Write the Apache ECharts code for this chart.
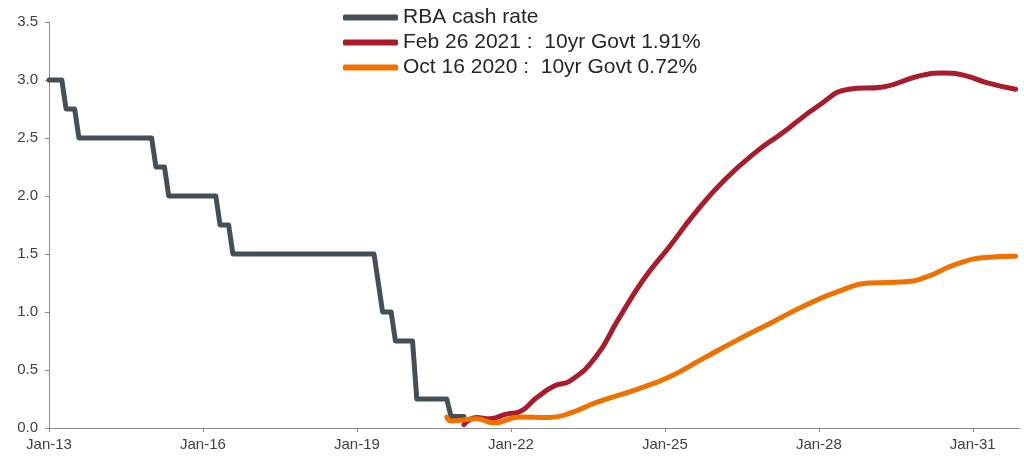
<!DOCTYPE html>
<html>
<head>
<meta charset="utf-8">
<script src="https://cdn.jsdelivr.net/npm/echarts@6/dist/echarts.min.js"></script>
<style>
  html, body { margin: 0; padding: 0; background: #fff; }
  #chart { width: 1024px; height: 457px; }
</style>
</head>
<body>
<div id="chart"></div>
<script>
// series names
const seriesNames = [
  "RBA cash rate",
  "Feb 26 2021 :  10yr Govt 1.91%",
  "Oct 16 2020 :  10yr Govt 0.72%",
];

// RBA cash rate, monthly points at the changes
const rbaDates = [
  "2013-01", "2013-04", "2013-05", "2013-07", "2013-08",
  "2015-01", "2015-02", "2015-04", "2015-05",
  "2016-04", "2016-05", "2016-07", "2016-08",
  "2019-05", "2019-07", "2019-09", "2019-10",
  "2020-02", "2020-03", "2020-10", "2020-11", "2021-02",
];
const rbaValues = [
  3.0, 3.0, 2.75, 2.75, 2.5,
  2.5, 2.25, 2.25, 2.0,
  2.0, 1.75, 1.75, 1.5,
  1.5, 1.0, 1.0, 0.75,
  0.75, 0.25, 0.25, 0.1, 0.1,
];

// implied path, Feb 26 2021
const febDates = [
  "2021-02", "2021-05", "2021-08", "2021-12", "2022-03", "2022-07",
  "2022-11", "2023-03", "2023-09", "2024-02", "2024-08", "2025-02",
  "2025-08", "2026-03", "2026-11", "2027-04", "2028-01", "2028-08",
  "2029-04", "2029-12", "2030-06", "2030-11", "2031-04", "2031-11",
];
const febValues = [
  0.03, 0.09, 0.08, 0.12, 0.14, 0.26,
  0.36, 0.41, 0.62, 0.93, 1.28, 1.56,
  1.85, 2.14, 2.40, 2.53, 2.78, 2.92,
  2.94, 3.03, 3.06, 3.04, 2.98, 2.92,
];

// implied path, Oct 16 2020
const octDates = [
  "2020-10", "2020-11", "2021-05", "2021-09", "2022-03", "2022-10",
  "2023-03", "2023-09", "2024-07", "2025-02", "2025-10", "2026-06",
  "2027-02", "2027-10", "2028-05", "2029-01", "2029-09", "2030-02",
  "2030-09", "2031-04", "2031-11",
];
const octValues = [
  0.095, 0.06, 0.08, 0.045, 0.095, 0.09,
  0.13, 0.22, 0.34, 0.44, 0.60, 0.76,
  0.91, 1.06, 1.17, 1.25, 1.26, 1.30,
  1.41, 1.47, 1.48,
];

// x tick labels (years)
const xTicks = [2013, 2016, 2019, 2022, 2025, 2028, 2031];

// "YYYY-MM" -> decimal year
function toYear(s) {
  const [y, m] = s.split("-").map(Number);
  return y + (m - 1) / 12;
}
function pairs(dates, values) {
  return dates.map((d, i) => [toYear(d), values[i]]);
}

const colors = ["#454f56", "#aa1c2c", "#f07100"];
const font = "Liberation Sans, Arial, sans-serif";

const chart = echarts.init(document.getElementById("chart"), null, { renderer: "canvas" });
chart.setOption({
  animation: false,
  color: colors,
  textStyle: { fontFamily: font },
  grid: { left: 49, right: 4, top: 22, bottom: 29, containLabel: false },
  legend: {
    orient: "vertical",
    left: 343,
    top: 7,
    padding: 0,
    icon: "roundRect",
    itemWidth: 55,
    itemHeight: 6,
    itemGap: 4,
    textStyle: { fontSize: 21, lineHeight: 21, color: "#262626", fontFamily: font },
    data: seriesNames,
  },
  xAxis: {
    type: "value",
    min: 2013,
    max: 2031.92,
    axisLine: { show: true, lineStyle: { color: "#8c8c8c", width: 1 } },
    axisTick: { show: true, length: 4, customValues: xTicks, lineStyle: { color: "#8c8c8c" } },
    axisLabel: {
      customValues: xTicks,
      color: "#404040",
      fontSize: 15,
      margin: 9,
      fontFamily: font,
      formatter: (v) => "Jan-" + String(Math.round(v)).slice(2),
    },
    splitLine: { show: false },
  },
  yAxis: {
    type: "value",
    min: 0,
    max: 3.5,
    interval: 0.5,
    axisLine: { show: true, lineStyle: { color: "#8c8c8c", width: 1 } },
    axisTick: { show: true, length: 4, lineStyle: { color: "#8c8c8c" } },
    axisLabel: {
      color: "#404040",
      fontSize: 15,
      margin: 11,
      fontFamily: font,
      formatter: (v) => v.toFixed(1),
    },
    splitLine: { show: false },
  },
  series: [
    {
      name: seriesNames[0],
      type: "line",
      data: pairs(rbaDates, rbaValues),
      showSymbol: false,
      lineStyle: { width: 5, cap: "round", join: "round" },
      z: 3,
    },
    {
      name: seriesNames[1],
      type: "line",
      data: pairs(febDates, febValues),
      showSymbol: false,
      smooth: 0.5,
      lineStyle: { width: 5, cap: "round", join: "round" },
      z: 2,
    },
    {
      name: seriesNames[2],
      type: "line",
      data: pairs(octDates, octValues),
      showSymbol: false,
      smooth: 0.5,
      lineStyle: { width: 5, cap: "round", join: "round" },
      z: 4,
    },
  ],
});
</script>
</body>
</html>
